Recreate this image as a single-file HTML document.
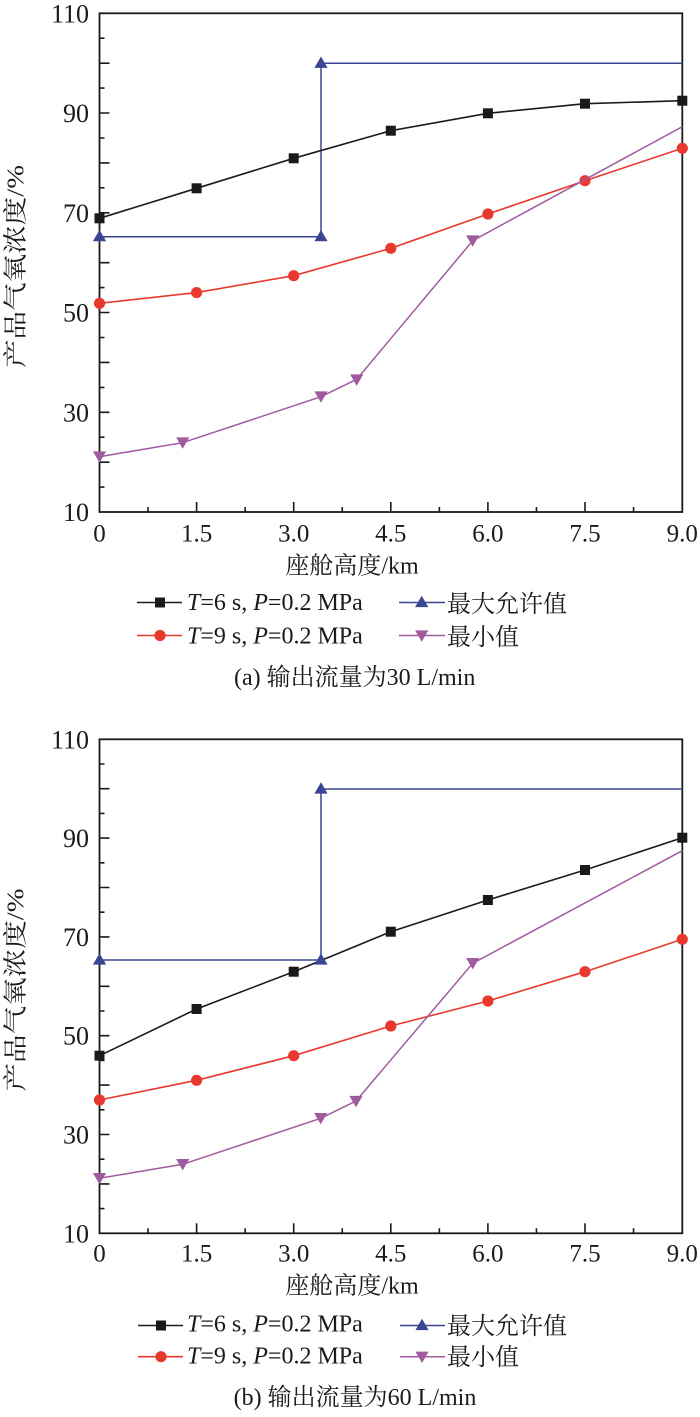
<!DOCTYPE html>
<html><head><meta charset="utf-8"><style>
html,body{margin:0;padding:0;background:#fff;}
svg{display:block;}
text{font-family:"Liberation Serif","Noto Serif CJK SC",serif;fill:#1a1a1a;}
.yt{font-size:26px;text-anchor:end;}
.xt{font-size:25px;text-anchor:middle;}
.lab{font-size:24px;}
</style></head><body>
<svg width="700" height="1417" viewBox="0 0 700 1417" xmlns="http://www.w3.org/2000/svg">
<defs>
<rect id="sq" x="-5" y="-5" width="10" height="10" fill="#1a1a1a"/>
<circle id="ci" r="5.6" fill="#e8392e"/>
<polygon id="tu" points="0,-6.8 6.6,4.6 -6.6,4.6" fill="#3a4693"/>
<polygon id="td" points="0,6.8 6.6,-4.6 -6.6,-4.6" fill="#a05a9e"/>
</defs>
<rect width="700" height="1417" fill="#fff"/>

<!-- ================= Chart (a) ================= -->
<g fill="none" stroke="#1a1a1a" stroke-width="1.6">
<path d="M99.5 38.2h5M99.5 63.2h10M99.5 88.1h5M99.5 113h10M99.5 138h5M99.5 162.9h10M99.5 187.8h5M99.5 212.8h10M99.5 237.7h5M99.5 262.7h10M99.5 287.6h5M99.5 312.5h10M99.5 337.5h5M99.5 362.4h10M99.5 387.4h5M99.5 412.3h10M99.5 437.2h5M99.5 462.2h10M99.5 487.1h5"/>
<path d="M148.05 512v-5M196.6 512v-10M245.15 512v-5M293.7 512v-10M342.25 512v-5M390.8 512v-10M439.35 512v-5M487.9 512v-10M536.45 512v-5M585 512v-10M633.55 512v-5"/>
<rect x="99.5" y="13.3" width="582.8" height="498.7" stroke-width="1.8"/>
</g>
<!-- series a -->
<polyline fill="none" stroke="#3a4693" stroke-width="1.5" points="99.5,236.7 321,236.7 321,63.3 682.3,63.3"/>
<polyline fill="none" stroke="#1a1a1a" stroke-width="1.6" points="99.5,218.3 196.6,188.3 293.7,158.3 390.8,130.7 487.9,113.3 585,103.7 682.3,100.7"/>
<polyline fill="none" stroke="#e8392e" stroke-width="1.6" points="99.5,303.3 196.6,292.6 293.7,275.7 390.8,248.3 487.9,214 585,180.7 682.3,148.3"/>
<g>
<use href="#sq" x="99.5" y="218.3"/><use href="#sq" x="196.6" y="188.3"/><use href="#sq" x="293.7" y="158.3"/><use href="#sq" x="390.8" y="130.7"/><use href="#sq" x="487.9" y="113.3"/><use href="#sq" x="585" y="103.7"/><use href="#sq" x="682.3" y="100.7"/>
<use href="#ci" x="99.5" y="303.3"/><use href="#ci" x="196.6" y="292.6"/><use href="#ci" x="293.7" y="275.7"/><use href="#ci" x="390.8" y="248.3"/><use href="#ci" x="487.9" y="214"/><use href="#ci" x="585" y="180.7"/><use href="#ci" x="682.3" y="148.3"/>
<use href="#tu" x="99.5" y="236.7"/><use href="#tu" x="321" y="236.7"/><use href="#tu" x="321" y="63.3"/>
</g>
<polyline fill="none" stroke="#a05a9e" stroke-width="1.5" points="99.5,456.7 182.7,442.7 321,396.7 356.7,379.3 472.7,240.7 682.3,126.7"/>
<g>
<use href="#td" x="99.5" y="456"/><use href="#td" x="182.7" y="442"/><use href="#td" x="321" y="396"/><use href="#td" x="356.7" y="379"/><use href="#td" x="472.7" y="240"/>
</g>
<!-- labels a -->
<text class="yt" x="89" y="22.3">110</text>
<text class="yt" x="89" y="122">90</text>
<text class="yt" x="89" y="221.8">70</text>
<text class="yt" x="89" y="321.5">50</text>
<text class="yt" x="89" y="421.3">30</text>
<text class="yt" x="89" y="521">10</text>
<text class="xt" x="99.5" y="541.7">0</text>
<text class="xt" x="196.6" y="541.7">1.5</text>
<text class="xt" x="293.7" y="541.7">3.0</text>
<text class="xt" x="390.8" y="541.7">4.5</text>
<text class="xt" x="487.9" y="541.7">6.0</text>
<text class="xt" x="585" y="541.7">7.5</text>
<text class="xt" x="682.3" y="541.7">9.0</text>
<text class="lab" x="352" y="573.3" text-anchor="middle">座舱高度/km</text>
<text class="lab" transform="translate(23.5,266.5) rotate(-90)" text-anchor="middle" textLength="203" lengthAdjust="spacingAndGlyphs">产品气氧浓度/%</text>
<!-- legend a -->
<path d="M137 602.5H182" stroke="#1a1a1a" stroke-width="1.6"/><use href="#sq" x="160" y="602.5"/>
<text class="lab" x="187" y="610"><tspan font-style="italic">T</tspan>=6 s, <tspan font-style="italic">P</tspan>=0.2 MPa</text>
<path d="M399 602.5H445" stroke="#3a4693" stroke-width="1.5"/><use href="#tu" x="421.7" y="602.5"/>
<text class="lab" x="447" y="612">最大允许值</text>
<path d="M137 635.5H182" stroke="#e8392e" stroke-width="1.6"/><use href="#ci" x="160" y="635.5"/>
<text class="lab" x="187" y="643.3"><tspan font-style="italic">T</tspan>=9 s, <tspan font-style="italic">P</tspan>=0.2 MPa</text>
<path d="M399 635.5H445" stroke="#a05a9e" stroke-width="1.5"/><use href="#td" x="421.7" y="635"/>
<text class="lab" x="447" y="645">最小值</text>
<text class="lab" x="354.7" y="685" text-anchor="middle">(a) 输出流量为30 L/min</text>

<!-- ================= Chart (b) ================= -->
<g fill="none" stroke="#1a1a1a" stroke-width="1.6">
<path d="M99.5 764h5M99.5 788.7h10M99.5 813.4h5M99.5 838.1h10M99.5 862.8h5M99.5 887.5h10M99.5 912.2h5M99.5 936.9h10M99.5 961.6h5M99.5 986.3h10M99.5 1011h5M99.5 1035.7h10M99.5 1060.4h5M99.5 1085.1h10M99.5 1109.8h5M99.5 1134.5h10M99.5 1159.2h5M99.5 1183.9h10M99.5 1208.6h5"/>
<path d="M148.05 1233.3v-5M196.6 1233.3v-10M245.15 1233.3v-5M293.7 1233.3v-10M342.25 1233.3v-5M390.8 1233.3v-10M439.35 1233.3v-5M487.9 1233.3v-10M536.45 1233.3v-5M585 1233.3v-10M633.55 1233.3v-5"/>
<rect x="99.5" y="739.3" width="582.8" height="494" stroke-width="1.8"/>
</g>
<polyline fill="none" stroke="#3a4693" stroke-width="1.5" points="99.5,960 321,960 321,789 682.3,789"/>
<polyline fill="none" stroke="#1a1a1a" stroke-width="1.6" points="99.5,1055.7 196.6,1009 293.7,971.7 390.8,931.7 487.9,900 585,870 682.3,837.7"/>
<polyline fill="none" stroke="#e8392e" stroke-width="1.6" points="99.5,1100 196.6,1080.3 293.7,1055.7 390.8,1026 487.9,1001 585,971.7 682.3,939.3"/>
<polyline fill="none" stroke="#a05a9e" stroke-width="1.5" points="99.5,1178.3 182.7,1164.3 320.7,1118.3 356,1101 472.7,963.3 682.3,850.7"/>
<g>
<use href="#sq" x="99.5" y="1055.7"/><use href="#sq" x="196.6" y="1009"/><use href="#sq" x="293.7" y="971.7"/><use href="#sq" x="390.8" y="931.7"/><use href="#sq" x="487.9" y="900"/><use href="#sq" x="585" y="870"/><use href="#sq" x="682.3" y="837.7"/>
<use href="#ci" x="99.5" y="1100"/><use href="#ci" x="196.6" y="1080.3"/><use href="#ci" x="293.7" y="1055.7"/><use href="#ci" x="390.8" y="1026"/><use href="#ci" x="487.9" y="1001"/><use href="#ci" x="585" y="971.7"/><use href="#ci" x="682.3" y="939.3"/>
<use href="#tu" x="99.5" y="960"/><use href="#tu" x="321" y="960"/><use href="#tu" x="321" y="789"/>
<use href="#td" x="99.5" y="1177.6"/><use href="#td" x="182.7" y="1163.6"/><use href="#td" x="320.7" y="1117.6"/><use href="#td" x="356" y="1100.5"/><use href="#td" x="472.7" y="962.6"/>
</g>
<text class="yt" x="89" y="748.3">110</text>
<text class="yt" x="89" y="847.1">90</text>
<text class="yt" x="89" y="945.9">70</text>
<text class="yt" x="89" y="1044.7">50</text>
<text class="yt" x="89" y="1143.5">30</text>
<text class="yt" x="89" y="1242.3">10</text>
<text class="xt" x="99.5" y="1261.7">0</text>
<text class="xt" x="196.6" y="1261.7">1.5</text>
<text class="xt" x="293.7" y="1261.7">3.0</text>
<text class="xt" x="390.8" y="1261.7">4.5</text>
<text class="xt" x="487.9" y="1261.7">6.0</text>
<text class="xt" x="585" y="1261.7">7.5</text>
<text class="xt" x="682.3" y="1261.7">9.0</text>
<text class="lab" x="352" y="1293.3" text-anchor="middle">座舱高度/km</text>
<text class="lab" transform="translate(23.5,990) rotate(-90)" text-anchor="middle" textLength="203" lengthAdjust="spacingAndGlyphs">产品气氧浓度/%</text>
<path d="M138 1325.5H183" stroke="#1a1a1a" stroke-width="1.6"/><use href="#sq" x="161" y="1325.5"/>
<text class="lab" x="187" y="1331.7"><tspan font-style="italic">T</tspan>=6 s, <tspan font-style="italic">P</tspan>=0.2 MPa</text>
<path d="M400 1325.5H445" stroke="#3a4693" stroke-width="1.5"/><use href="#tu" x="422" y="1325.5"/>
<text class="lab" x="447" y="1334">最大允许值</text>
<path d="M138 1356.7H183" stroke="#e8392e" stroke-width="1.6"/><use href="#ci" x="161" y="1356.7"/>
<text class="lab" x="187" y="1363.3"><tspan font-style="italic">T</tspan>=9 s, <tspan font-style="italic">P</tspan>=0.2 MPa</text>
<path d="M400 1356.7H445" stroke="#a05a9e" stroke-width="1.5"/><use href="#td" x="422" y="1356.2"/>
<text class="lab" x="447" y="1365">最小值</text>
<text class="lab" x="355" y="1405" text-anchor="middle">(b) 输出流量为60 L/min</text>
</svg>
</body></html>
